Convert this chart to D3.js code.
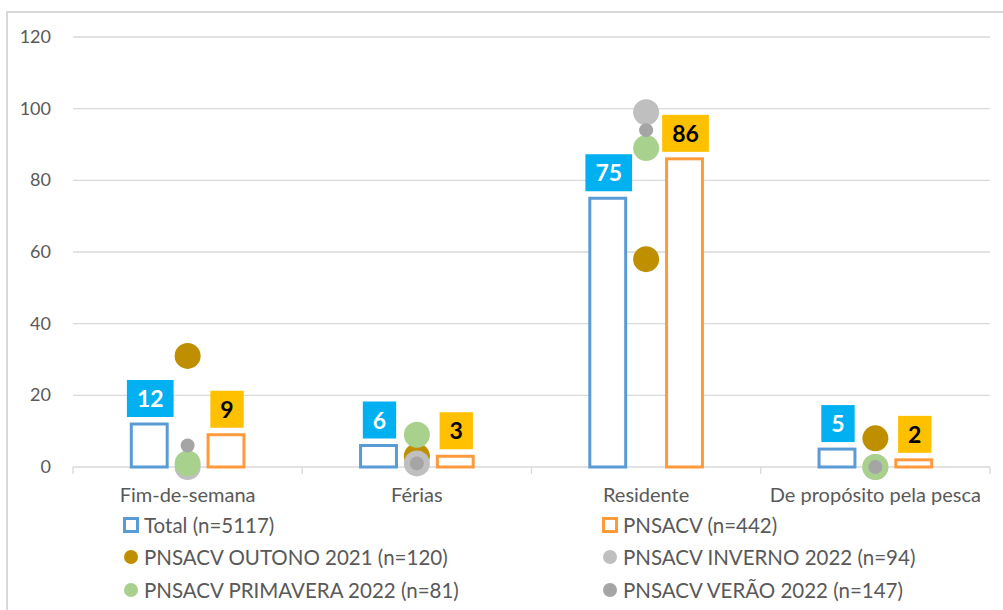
<!DOCTYPE html>
<meta charset="utf-8">
<html>
<head><title>Motivo da visita</title>
<script src="https://cdn.jsdelivr.net/npm/d3@7"></script>
<style>
    body { margin: 0; background: #fff; font-family: Lato, "Open Sans", sans-serif; }
    .grid line { stroke: #d9d9d9; stroke-width: 1.3; }
    .tick-lbl { fill: #595959; font-size: 18px; }
</style>
</head>
<body>
<script>
// categories and values
var categories = ["Fim-de-semana", "Férias", "Residente", "De propósito pela pesca"];
var barSeries = ["Total (n=5117)", "PNSACV (n=442)"];
var totalValues = [12, 6, 75, 5];
var pnsacvValues = [9, 3, 86, 2];

var dotSeries = ["PNSACV OUTONO 2021 (n=120)", "PNSACV INVERNO 2022 (n=94)",
                 "PNSACV PRIMAVERA 2022 (n=81)", "PNSACV VERÃO 2022 (n=147)"];
var outonoValues = [31, 3, 58, 8];
var invernoValues = [0, 1, 99, 0];
var primaveraValues = [1, 9, 89, 0];
var veraoValues = [6, 1, 94, 0];
var yTicks = [0, 20, 40, 60, 80, 100, 120];

var W = 1003, H = 610;
var svg = d3.select("body").append("svg").attr("width", W).attr("height", H);

// outer chart border
svg.append("rect").attr("x", 7).attr("y", 12).attr("width", W).attr("height", H)
    .attr("fill", "none").attr("stroke", "#d9d9d9").attr("stroke-width", 2);

var x = d3.scaleBand().domain(categories).range([73, 990]);
var xs = d3.scaleBand().domain(barSeries).range([0, x.bandwidth()])
    .paddingInner(0.4935).paddingOuter(0.74);
var y = d3.scaleLinear().domain([0, 120]).range([467, 37]);

// gridlines
var grid = svg.append("g").attr("class", "grid");
grid.selectAll("line").data(yTicks).enter().append("line")
    .attr("x1", 73).attr("x2", 990)
    .attr("y1", function(d) { return y(d); }).attr("y2", function(d) { return y(d); });
// category tick marks on the zero line
grid.selectAll("line.sep").data(d3.range(categories.length + 1)).enter().append("line")
    .attr("class", "sep")
    .attr("x1", function(i) { return 73 + i * x.bandwidth(); })
    .attr("x2", function(i) { return 73 + i * x.bandwidth(); })
    .attr("y1", y(0)).attr("y2", y(0) + 7);

svg.selectAll("text.ylbl").data(yTicks).enter().append("text")
    .attr("class", "tick-lbl")
    .attr("x", 51).attr("y", function(d) { return y(d) + 6; })
    .attr("text-anchor", "end").text(function(d) { return d; });

svg.selectAll("text.xlbl").data(categories).enter().append("text")
    .attr("class", "tick-lbl")
    .attr("x", function(d) { return x(d) + x.bandwidth() / 2; })
    .attr("y", 502).attr("text-anchor", "middle")
    .style("font-size", "20px").text(function(d) { return d; });

// hollow bars
var bars = [
    {name: barSeries[0], values: totalValues, stroke: "#5b9bd5", box: "#00b0f0", txt: "#fff"},
    {name: barSeries[1], values: pnsacvValues, stroke: "#ff9a3c", box: "#ffc000", txt: "#000"}
];
bars.forEach(function(s) {
    var g = svg.append("g");
    g.selectAll("rect").data(s.values).enter().append("rect")
        .attr("x", function(d, i) { return x(categories[i]) + xs(s.name) + 1.5; })
        .attr("y", function(d) { return y(d); })
        .attr("width", xs.bandwidth() - 3)
        .attr("height", function(d) { return y(0) - y(d); })
        .attr("fill", "#fff").attr("stroke", s.stroke).attr("stroke-width", 3);
    // value label boxes
    s.values.forEach(function(d, i) {
        var cx = x(categories[i]) + xs(s.name) + xs.bandwidth() / 2 + 1;
        var lg = svg.append("g");
        var r = lg.append("rect");
        var t = lg.append("text").attr("x", cx).attr("y", y(d) - 17)
            .attr("text-anchor", "middle").attr("fill", s.txt)
            .style("font-size", "23px").style("font-weight", "bold").text(d);
        var tw = t.node().getComputedTextLength();
        r.attr("x", cx - tw / 2 - 10).attr("width", tw + 20)
            .attr("y", y(d) - 44).attr("height", 37).attr("fill", s.box);
    });
});

// dots
var dots = [
    {values: outonoValues, color: "#bf8f00", r: 13},
    {values: invernoValues, color: "#bfbfbf", r: 13},
    {values: primaveraValues, color: "#a9d18e", r: 13},
    {values: veraoValues, color: "#a5a5a5", r: 7}
];
dots.forEach(function(s) {
    svg.append("g").selectAll("circle").data(s.values).enter().append("circle")
        .attr("cx", function(d, i) { return x(categories[i]) + x.bandwidth() / 2; })
        .attr("cy", function(d) { return y(d); })
        .attr("r", s.r).attr("fill", s.color);
});

// legend
var legend = [
    {name: barSeries[0], type: "sq", color: "#5b9bd5", lx: 123, ly: 525},
    {name: barSeries[1], type: "sq", color: "#ff9a3c", lx: 602, ly: 525},
    {name: dotSeries[0], type: "dot", color: "#bf8f00", lx: 123, ly: 557},
    {name: dotSeries[1], type: "dot", color: "#bfbfbf", lx: 602, ly: 557},
    {name: dotSeries[2], type: "dot", color: "#a9d18e", lx: 123, ly: 590},
    {name: dotSeries[3], type: "dot", color: "#a5a5a5", lx: 602, ly: 590}
];
legend.forEach(function(l) {
    if (l.type === "sq") {
        svg.append("rect").attr("x", l.lx + 1.5).attr("y", l.ly - 6.5)
            .attr("width", 13).attr("height", 13)
            .attr("fill", "#fff").attr("stroke", l.color).attr("stroke-width", 3);
    } else {
        svg.append("circle").attr("cx", l.lx + 8).attr("cy", l.ly).attr("r", 7).attr("fill", l.color);
    }
    svg.append("text").attr("class", "tick-lbl").attr("x", l.lx + 21).attr("y", l.ly + 7.5)
        .style("font-size", "20.5px").text(l.name);
});
</script>
</body>
</html>
